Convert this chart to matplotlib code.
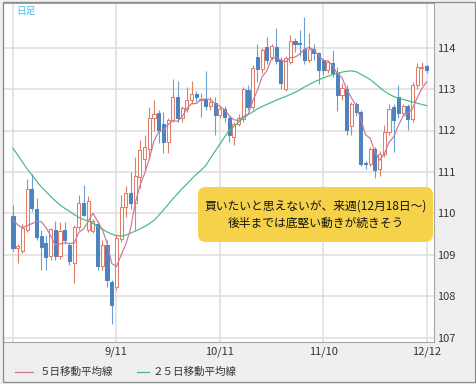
import matplotlib
matplotlib.use("Agg")
import matplotlib.pyplot as plt
from matplotlib.patches import FancyBboxPatch, Rectangle
from matplotlib.lines import Line2D

plt.rcParams['font.family'] = ['Noto Sans CJK JP', 'DejaVu Sans']

# ---- data (daily USD/JPY candles, 8/10 .. 12/12) ----
opens = [109.94, 109.15, 109.10, 109.60, 110.59, 110.10, 109.44, 109.28, 108.96, 109.59,
         108.98, 109.59, 109.24, 108.80, 109.67, 110.25, 109.60, 109.57, 109.73, 108.72,
         109.24, 108.35, 108.21, 109.39, 110.16, 110.50, 110.24, 110.88, 111.30, 111.56,
         112.29, 112.43, 112.15, 111.73, 112.25, 112.80, 112.29, 112.53, 112.73, 112.88,
         112.73, 112.77, 112.60, 112.67, 112.37, 112.53, 112.29, 111.84, 112.16, 112.28,
         112.99, 112.57, 113.78, 113.48, 114.02, 113.78, 114.02, 113.70, 113.01, 113.66,
         114.15, 114.12, 113.98, 113.70, 113.98, 113.86, 113.70, 113.46, 113.64, 113.40,
         112.85, 113.00, 112.10, 112.64, 112.45, 111.22, 111.20, 111.56, 111.08, 111.44,
         111.97, 112.56, 112.80, 112.43, 112.59, 112.27, 113.10, 113.50, 113.56]
highs = [110.20, 109.25, 109.73, 110.84, 110.95, 110.37, 109.60, 109.48, 109.65, 109.82,
         109.80, 109.79, 109.28, 109.71, 110.45, 110.69, 110.42, 109.86, 109.81, 109.36,
         109.36, 108.40, 109.50, 110.44, 110.66, 111.00, 111.37, 111.77, 111.90, 112.57,
         112.73, 112.50, 112.45, 112.30, 113.24, 113.20, 112.60, 113.04, 113.19, 112.95,
         112.90, 113.44, 112.80, 112.80, 112.60, 112.60, 112.35, 112.20, 112.40, 113.05,
         113.10, 113.58, 114.10, 114.00, 114.27, 114.10, 114.47, 113.78, 113.80, 114.31,
         114.23, 114.42, 114.75, 114.35, 114.10, 113.90, 113.75, 113.70, 113.94, 113.54,
         113.14, 113.10, 112.70, 112.70, 112.50, 111.26, 111.60, 111.60, 111.50, 112.13,
         112.65, 112.65, 113.10, 112.65, 112.65, 113.18, 113.62, 113.66, 113.58]
lows = [109.10, 108.80, 109.05, 109.55, 110.05, 109.35, 108.64, 108.62, 108.88, 108.88,
        108.90, 109.27, 108.76, 108.31, 109.60, 109.93, 109.55, 109.53, 108.64, 108.64,
        108.23, 107.33, 108.15, 109.30, 109.90, 110.10, 109.60, 110.60, 111.05, 111.30,
        112.00, 111.69, 111.45, 111.45, 112.20, 112.20, 112.20, 112.45, 112.65, 112.70,
        112.33, 112.50, 112.50, 111.90, 112.30, 112.20, 111.72, 111.64, 112.10, 112.20,
        112.50, 112.50, 113.17, 113.40, 113.60, 113.70, 113.60, 113.00, 112.95, 113.60,
        113.90, 113.80, 113.60, 113.65, 113.70, 113.13, 113.35, 113.40, 113.30, 112.48,
        112.73, 111.90, 111.90, 112.35, 111.15, 111.08, 111.15, 110.85, 110.90, 111.36,
        111.90, 111.48, 112.30, 112.35, 112.01, 112.20, 113.00, 113.10, 113.40]
closes = [109.16, 109.20, 109.65, 110.59, 110.13, 109.43, 109.19, 108.95, 109.62, 108.96,
          109.58, 109.36, 108.84, 109.67, 110.25, 109.97, 110.29, 109.82, 108.72, 109.24,
          108.39, 107.78, 109.40, 110.16, 110.50, 110.24, 110.90, 111.54, 111.60, 112.29,
          112.41, 112.01, 111.73, 112.25, 112.81, 112.29, 112.55, 112.73, 112.89, 112.80,
          112.77, 112.59, 112.70, 112.37, 112.53, 112.33, 111.89, 112.16, 112.30, 113.01,
          112.57, 113.50, 113.48, 113.94, 113.70, 114.05, 113.68, 113.15, 113.74, 114.17,
          114.10, 114.09, 113.70, 113.98, 113.86, 113.46, 113.46, 113.66, 113.40, 112.85,
          113.02, 112.02, 112.64, 112.45, 111.20, 111.18, 111.56, 111.04, 111.44, 111.97,
          112.53, 112.25, 112.43, 112.59, 112.27, 113.10, 113.54, 113.54, 113.46]
ma5 = [109.85, 109.72, 109.65, 109.70, 109.75, 109.80, 109.80, 109.66, 109.46, 109.23,
       109.26, 109.29, 109.27, 109.28, 109.54, 109.62, 109.80, 110.00, 109.81, 109.61,
       109.29, 108.79, 108.71, 108.99, 109.25, 109.62, 110.24, 110.67, 110.96, 111.31,
       111.75, 111.97, 112.01, 112.14, 112.24, 112.22, 112.33, 112.53, 112.65, 112.65,
       112.75, 112.76, 112.75, 112.65, 112.59, 112.50, 112.36, 112.26, 112.24, 112.34,
       112.39, 112.71, 112.97, 113.30, 113.44, 113.73, 113.77, 113.70, 113.66, 113.76,
       113.77, 113.85, 113.96, 114.01, 113.95, 113.82, 113.69, 113.68, 113.57, 113.37,
       113.28, 112.99, 112.79, 112.60, 112.27, 111.90, 111.81, 111.49, 111.28, 111.44,
       111.71, 111.85, 112.12, 112.35, 112.41, 112.53, 112.79, 113.01, 113.18]
ma25 = [111.57, 111.41, 111.24, 111.07, 110.93, 110.78, 110.64, 110.53, 110.41, 110.30,
        110.20, 110.12, 110.05, 109.97, 109.90, 109.85, 109.81, 109.76, 109.68, 109.62,
        109.55, 109.50, 109.46, 109.45, 109.47, 109.52, 109.57, 109.62, 109.68, 109.75,
        109.83, 109.95, 110.08, 110.21, 110.35, 110.47, 110.60, 110.71, 110.83, 110.94,
        111.04, 111.15, 111.33, 111.50, 111.67, 111.84, 112.00, 112.10, 112.20, 112.30,
        112.38, 112.45, 112.52, 112.58, 112.63, 112.68, 112.73, 112.78, 112.82, 112.87,
        112.92, 112.98, 113.05, 113.11, 113.17, 113.22, 113.27, 113.31, 113.35, 113.38,
        113.41, 113.43, 113.44, 113.42, 113.36, 113.30, 113.23, 113.14, 113.04, 112.95,
        112.88, 112.82, 112.78, 112.75, 112.72, 112.69, 112.66, 112.63, 112.60]
date_tick_index = [0, 22, 44, 66, 88]
date_tick_labels = ['', '9/11', '10/11', '11/10', '12/12']
price_ticks = [107, 108, 109, 110, 111, 112, 113, 114]
legend_labels = ['５日移動平均線', '２５日移動平均線']
note_lines = ['買いたいと思えないが、来週(12月18日～)', '後半までは底堅い動きが続きそう']
chart_label = '日足'

# ---- styling ----
W, H = 477, 384
UP = '#e27c66'
DOWN = '#4d84bf'
DOWN_WICK = '#6f9fd2'
MA5_C = '#c7789a'
MA25_C = '#45b985'
GRID = '#dedede'

fig = plt.figure(figsize=(W / 100, H / 100), dpi=100)
fig.patch.set_facecolor('#efefef')

def fx(px):
    return px / W

def fy(py):
    return 1 - py / H

# outer border
fig.patches.append(Rectangle((fx(2.5), fy(382)), fx(473), 380 / H, transform=fig.transFigure,
                             fill=False, edgecolor='#8a8a8a', lw=0.9, zorder=0))

left, right, top, bottom = 3.5, 434, 2.5, 342
ax = fig.add_axes([fx(left), fy(bottom), fx(right - left), (bottom - top) / H])
ax.set_facecolor('white')

n = len(closes)
xs = list(range(n))
up = [c >= o for o, c in zip(opens, closes)]

# wicks
ax.vlines(xs, lows, highs, colors=[UP if u else DOWN_WICK for u in up], lw=0.8, zorder=2)
# bodies
bottoms = [min(o, c) for o, c in zip(opens, closes)]
heights = [max(abs(c - o), 0.025) for o, c in zip(opens, closes)]
ax.bar(xs, heights, bottom=bottoms, width=0.68,
       color=['white' if u else DOWN for u in up],
       edgecolor=[UP if u else DOWN for u in up], lw=0.75, zorder=3)

ax.plot(xs, ma25, color=MA25_C, lw=0.85, zorder=4)
ax.plot(xs, ma5, color=MA5_C, lw=0.85, zorder=4)

ax.set_xlim((left - 13) / 4.7, (right - 13) / 4.7)
ax.set_ylim(114 - (bottom - 47.7) / 41.4, 114 + (47.7 - top) / 41.4)

ax.set_xticks(date_tick_index)
ax.set_xticklabels(date_tick_labels)
ax.set_yticks(price_ticks)
ax.set_yticklabels([str(p) for p in price_ticks])
ax.yaxis.tick_right()
ax.tick_params(axis='y', length=0, pad=2, labelsize=8, labelcolor='#333333')
ax.tick_params(axis='x', length=0, pad=3, labelsize=8, labelcolor='#333333')
ax.grid(True, color=GRID, lw=1.1, zorder=0)
ax.set_axisbelow(True)
for s in ax.spines.values():
    s.set_color('#a5a5a5')
    s.set_linewidth(0.8)

# chart label
fig.text(fx(16), fy(11), chart_label, color='#4cbde6', fontsize=7, va='center', ha='left')

# note box
box_x0, box_x1, box_y0, box_y1 = 198, 433, 187, 242
fig.patches.append(FancyBboxPatch((box_x0 / 100, (H - box_y1) / 100), (box_x1 - box_x0) / 100,
                                  (box_y1 - box_y0) / 100,
                                  boxstyle='round,pad=0,rounding_size=0.08',
                                  transform=fig.dpi_scale_trans, facecolor='#f5d24a',
                                  edgecolor='none', zorder=5))
cx = (box_x0 + box_x1) / 2
fig.text(fx(cx), fy(206), note_lines[0], fontsize=8.5, ha='center', va='center', color='#111111', zorder=6)
fig.text(fx(cx), fy(223), note_lines[1], fontsize=8.5, ha='center', va='center', color='#111111', zorder=6)

# legend
ly = 372
fig.lines.append(Line2D([fx(15), fx(33)], [fy(ly), fy(ly)], transform=fig.transFigure, color=MA5_C, lw=0.9))
fig.text(fx(40), fy(ly), legend_labels[0], fontsize=7.6, ha='left', va='center', color='#333333')
fig.lines.append(Line2D([fx(137), fx(149)], [fy(ly), fy(ly)], transform=fig.transFigure, color=MA25_C, lw=0.9))
fig.text(fx(153), fy(ly), legend_labels[1], fontsize=7.6, ha='left', va='center', color='#333333')

fig.savefig('out.png', dpi=100, facecolor=fig.get_facecolor())
